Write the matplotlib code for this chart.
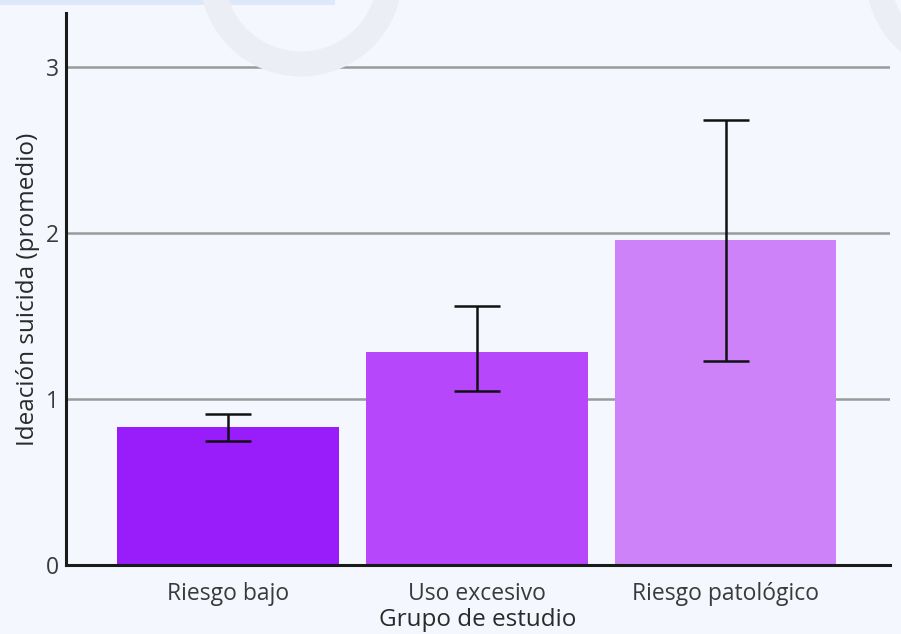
import numpy as np
import matplotlib.pyplot as plt
from matplotlib.patches import Rectangle, Ellipse

# === Data ===
grupos = ['Riesgo bajo', 'Uso excesivo', 'Riesgo patológico']
medias = [0.83, 1.28, 1.96]
err_inf = [0.745, 1.05, 1.23]   # extremo inferior de la barra de error
err_sup = [0.91, 1.56, 2.68]    # extremo superior
colores = ['#991dfb', '#b647fb', '#cd82fa']

# === Plot ===
plt.rcParams['font.family'] = ['Open Sans', 'DejaVu Sans']
fondo = '#f4f7fd'
W, H = 901, 634

fig = plt.figure(figsize=(W / 100, H / 100), dpi=100, facecolor=fondo)

# marca de agua y franja superior (decorativas)
fig.patches.append(Rectangle((0, 0.992), 335 / W, 0.008, transform=fig.transFigure,
                             facecolor='#dde8fb', edgecolor='none', zorder=0))
for cx, cy in [(301, -25), (967, -25)]:
    fig.patches.append(Ellipse((cx / W, 1 - cy / H), 2 * 89 / W, 2 * 89 / H,
                               transform=fig.transFigure, fill=False,
                               edgecolor='#ebeef5', lw=18, zorder=0))

ax = fig.add_axes([66 / W, 0.109, 0.9145, 0.8705])
ax.set_facecolor('none')

x = np.arange(len(grupos))
medias = np.array(medias)
yerr = [medias - np.array(err_inf), np.array(err_sup) - medias]

ax.bar(x, medias, width=0.89, color=colores, zorder=2)
ax.errorbar(x, medias, yerr=yerr, fmt='none', ecolor='#111111', elinewidth=1.8,
            capsize=16.5, capthick=1.8, zorder=3)

ax.set_xlim(-0.65, 2.66)
ax.set_ylim(0, 3.325)
ax.set_yticks([0, 1, 2, 3])
ax.set_xticks(x)
ax.set_xticklabels(grupos)
ax.yaxis.grid(True, color='#9a9a9a', lw=1.8, zorder=1)
ax.set_axisbelow(True)

for s in ['top', 'right']:
    ax.spines[s].set_visible(False)
for s in ['left', 'bottom']:
    ax.spines[s].set_linewidth(2.2)
    ax.spines[s].set_color('#1a1a1a')

ax.tick_params(axis='both', length=0, labelsize=16.5, labelcolor='#3a3a3a')
ax.tick_params(axis='x', pad=12)
ax.tick_params(axis='y', pad=5)

ax.set_xlabel('Grupo de estudio', fontsize=17.5, color='#2a2a2a', fontweight='medium', labelpad=2)
ax.set_ylabel('Ideación suicida (promedio)', fontsize=17.5, color='#2a2a2a', labelpad=4)

fig.savefig('out.png', dpi=100, facecolor=fondo)
